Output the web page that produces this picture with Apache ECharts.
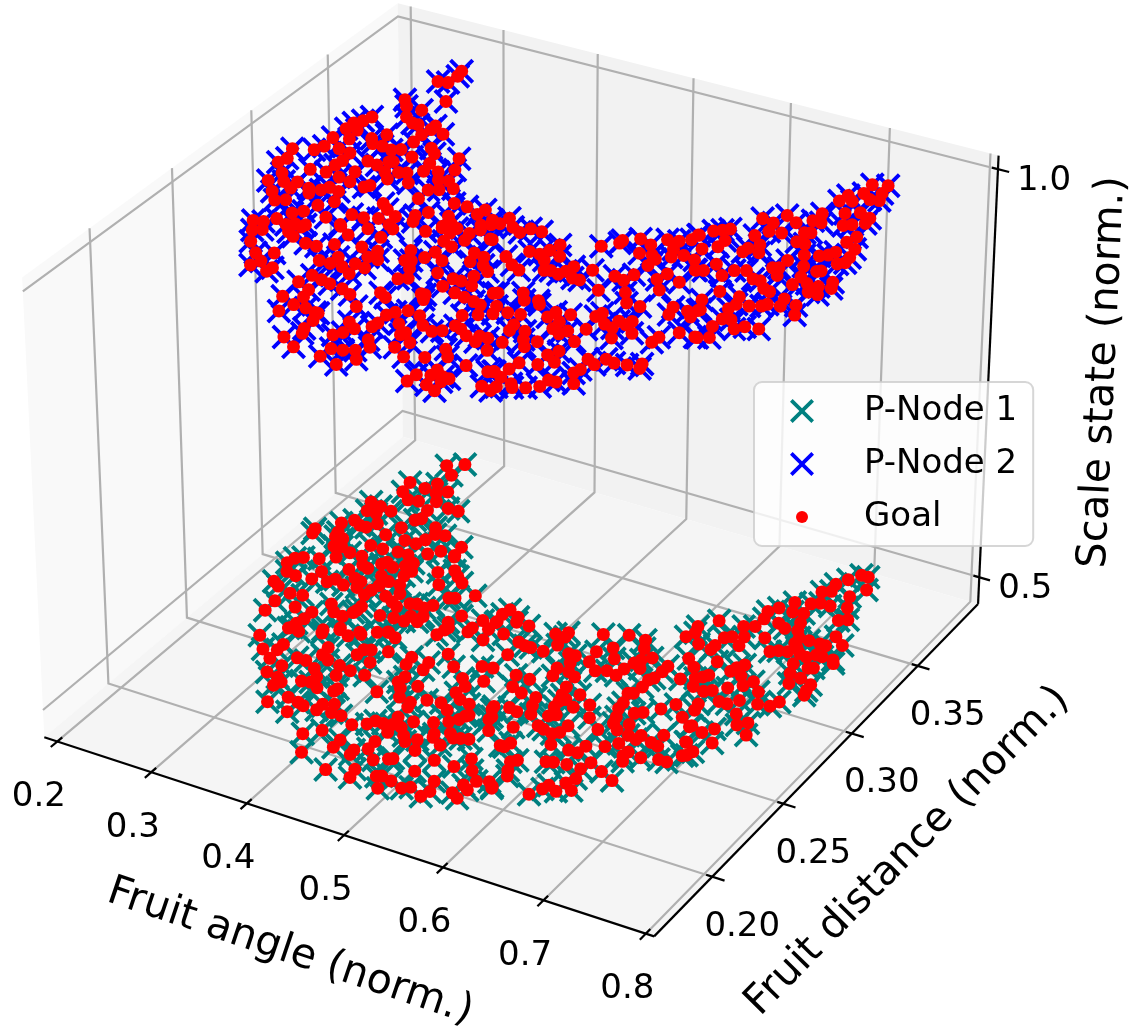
<!DOCTYPE html>
<html><head><meta charset="utf-8"><style>html,body{margin:0;padding:0;background:#fff}#c{width:1138px;height:1026px}</style>
<script src="https://cdn.jsdelivr.net/npm/echarts@6/dist/echarts.min.js"></script></head><body><div id="c"></div><script>
const angleTicks=[0.2,0.3,0.4,0.5,0.6,0.7,0.8];
const distanceTicks=[0.20,0.25,0.30,0.35];
const scaleTicks=[0.5,1.0];
const angleLimits=[0.186,0.808];
const distanceLimits=[0.1605,0.3975];
const scaleLimits=[0.466,1.016];
const lowerScale=0.5;
const upperScale=1.0;
// [fruit angle, fruit distance] of the goals on the upper sheet
const goalUpper=[[.296,.371],[.298,.367],[.297,.361],[.288,.360],[.315,.348],[.281,.342],[.289,.338],[.305,.338],[.300,.331],[.311,.328],[.317,.328],[.332,.330],[.346,.326],[.332,.327],
[.330,.322],[.331,.316],[.351,.315],[.359,.312],[.345,.306],[.365,.305],[.303,.316],[.273,.325],[.270,.321],[.265,.318],[.265,.313],[.275,.314],[.278,.307],[.295,.311],
[.301,.308],[.311,.308],[.322,.307],[.329,.309],[.383,.313],[.391,.305],[.368,.299],[.380,.301],[.388,.296],[.397,.297],[.408,.293],[.398,.290],[.390,.288],[.391,.281],
[.368,.289],[.357,.295],[.350,.294],[.339,.292],[.348,.288],[.335,.300],[.332,.299],[.326,.295],[.315,.296],[.341,.281],[.338,.279],[.264,.305],[.280,.299],[.293,.298],
[.295,.292],[.294,.288],[.266,.298],[.262,.294],[.244,.291],[.250,.284],[.247,.280],[.279,.281],[.294,.282],[.309,.281],[.322,.280],[.316,.287],[.261,.274],[.271,.269],
[.283,.266],[.282,.271],[.258,.267],[.272,.261],[.283,.256],[.291,.258],[.297,.269],[.302,.266],[.308,.270],[.312,.273],[.323,.272],[.330,.265],[.321,.260],[.339,.254],
[.369,.272],[.378,.269],[.356,.260],[.368,.260],[.380,.262],[.391,.266],[.405,.270],[.409,.266],[.412,.274],[.431,.275],[.423,.284],[.436,.284],[.453,.285],[.451,.281],
[.464,.275],[.440,.271],[.287,.240],[.296,.241],[.303,.245],[.309,.251],[.316,.254],[.322,.245],[.316,.243],[.331,.246],[.357,.252],[.394,.260],[.436,.268],[.449,.269],
[.471,.277],[.296,.234],[.303,.236],[.325,.239],[.333,.237],[.330,.244],[.306,.227],[.321,.221],[.335,.224],[.349,.235],[.360,.235],[.372,.239],[.373,.247],[.359,.251],
[.382,.254],[.400,.251],[.401,.258],[.428,.262],[.437,.267],[.448,.265],[.451,.259],[.462,.257],[.466,.263],[.463,.268],[.468,.272],[.484,.268],[.395,.242],[.409,.237],
[.411,.242],[.419,.237],[.376,.227],[.387,.227],[.387,.232],[.399,.227],[.411,.224],[.406,.231],[.417,.230],[.329,.213],[.333,.217],[.347,.212],[.348,.215],[.440,.241],
[.435,.248],[.445,.242],[.451,.237],[.452,.246],[.455,.251],[.468,.247],[.476,.239],[.452,.229],[.459,.231],[.485,.257],[.490,.251],[.496,.256],[.503,.251],[.512,.248],
[.506,.243],[.513,.237],[.493,.238],[.501,.238],[.492,.232],[.507,.230],[.381,.211],[.385,.217],[.396,.216],[.406,.215],[.396,.208],[.399,.203],[.383,.200],[.399,.197],
[.394,.191],[.420,.214],[.431,.212],[.452,.218],[.460,.216],[.447,.206],[.483,.224],[.487,.224],[.490,.221],[.518,.229],[.529,.228],[.537,.227],[.536,.236],[.544,.221],
[.533,.218],[.411,.197],[.422,.196],[.425,.196],[.428,.191],[.429,.185],[.432,.182],[.477,.206],[.481,.209],[.489,.212],[.502,.211],[.513,.206],[.525,.204],[.532,.206],
[.494,.203],[.505,.197],[.507,.199],[.519,.194],[.537,.211],[.544,.210],[.554,.207],[.566,.205],[.564,.209],[.572,.209],[.456,.196],[.466,.193],[.461,.189],[.478,.200],
[.477,.197],[.456,.186],[.422,.177],[.438,.173],[.467,.178],[.477,.179],[.486,.181],[.486,.189],[.494,.185],[.495,.176],[.512,.189],[.527,.185],[.543,.188],[.551,.196],
[.559,.192],[.582,.202],[.466,.172],[.485,.170],[.580,.190],[.552,.177],[.551,.172],[.563,.179],[.563,.183],[.579,.180],[.573,.180],[.568,.173],[.579,.171],[.576,.177],
[.601,.190],[.606,.191],[.609,.181],[.619,.180],[.479,.284],[.468,.280],[.477,.279],[.490,.279],[.500,.277],[.505,.281],[.516,.281],[.486,.268],[.525,.267],[.535,.267],
[.539,.271],[.542,.276],[.552,.269],[.544,.264],[.512,.260],[.524,.256],[.534,.254],[.553,.258],[.558,.259],[.567,.258],[.570,.261],[.572,.265],[.589,.266],[.581,.258],
[.588,.258],[.574,.282],[.585,.287],[.585,.289],[.597,.293],[.609,.284],[.610,.291],[.620,.285],[.626,.283],[.626,.278],[.618,.297],[.628,.298],[.631,.292],[.636,.287],
[.644,.290],[.636,.301],[.637,.305],[.656,.289],[.665,.283],[.611,.266],[.621,.265],[.624,.270],[.633,.258],[.643,.252],[.611,.255],[.645,.271],[.648,.276],[.656,.265],
[.664,.273],[.539,.237],[.558,.241],[.565,.237],[.576,.239],[.580,.237],[.554,.224],[.550,.229],[.564,.227],[.575,.228],[.579,.221],[.581,.217],[.597,.231],[.599,.235],
[.612,.236],[.656,.252],[.681,.257],[.684,.252],[.695,.257],[.702,.254],[.702,.259],[.632,.239],[.634,.242],[.645,.236],[.654,.235],[.653,.240],[.663,.242],[.661,.239],
[.610,.230],[.611,.225],[.620,.223],[.624,.226],[.636,.230],[.673,.235],[.662,.229],[.707,.243],[.722,.243],[.593,.219],[.599,.214],[.606,.210],[.611,.215],[.586,.209],
[.638,.221],[.696,.237],[.695,.233],[.635,.213],[.630,.209],[.641,.206],[.616,.200],[.631,.202],[.614,.195],[.663,.213],[.672,.211],[.676,.216],[.685,.215],[.696,.216],
[.706,.219],[.708,.216],[.666,.206],[.664,.203],[.673,.197],[.605,.191],[.615,.189],[.620,.183],[.628,.187],[.632,.185],[.642,.187],[.651,.190],[.652,.195],[.659,.195],
[.725,.366],[.738,.368],[.726,.359],[.716,.355],[.714,.350],[.724,.352],[.736,.356],[.744,.357],[.740,.362],[.671,.326],[.687,.332],[.700,.329],[.712,.339],[.711,.333],
[.719,.333],[.729,.343],[.740,.346],[.738,.335],[.744,.337],[.753,.340],[.752,.344],[.758,.330],[.683,.325],[.687,.319],[.698,.320],[.680,.314],[.715,.324],[.720,.325],
[.717,.317],[.725,.317],[.755,.325],[.767,.322],[.755,.317],[.752,.314],[.746,.312],[.734,.310],[.645,.310],[.651,.312],[.656,.314],[.638,.305],[.662,.306],[.662,.301],
[.652,.297],[.692,.309],[.698,.304],[.686,.305],[.685,.302],[.770,.316],[.771,.312],[.766,.310],[.726,.304],[.721,.297],[.726,.298],[.731,.293],[.743,.303],[.750,.296],
[.760,.303],[.757,.302],[.676,.290],[.666,.283],[.672,.284],[.695,.289],[.704,.291],[.690,.284],[.716,.287],[.723,.287],[.732,.283],[.739,.282],[.750,.290],[.760,.293],
[.778,.298],[.782,.294],[.771,.293],[.768,.288],[.777,.288],[.702,.274],[.696,.266],[.703,.260],[.721,.274],[.725,.269],[.723,.265],[.736,.270],[.745,.272],[.748,.274],
[.756,.280],[.759,.275],[.770,.278],[.777,.272],[.727,.258],[.734,.259],[.744,.254],[.726,.252],[.750,.257],[.762,.258],[.724,.243],[.733,.245]];
// [fruit angle, fruit distance] of the goals on the lower sheet
const goalLower=[[.291,.375],[.277,.371],[.290,.366],[.263,.354],[.281,.353],[.287,.358],[.295,.352],[.303,.355],[.266,.347],[.278,.343],[.288,.344],[.303,.347],[.319,.345],[.330,.345],
[.304,.340],[.307,.334],[.303,.332],[.250,.335],[.262,.334],[.255,.329],[.265,.329],[.275,.333],[.254,.321],[.263,.319],[.270,.319],[.276,.323],[.299,.325],[.230,.309],
[.232,.306],[.246,.317],[.252,.311],[.254,.308],[.262,.308],[.262,.302],[.269,.303],[.281,.301],[.274,.296],[.293,.318],[.291,.309],[.304,.309],[.327,.331],[.342,.328],
[.333,.327],[.314,.318],[.326,.318],[.330,.322],[.319,.310],[.330,.310],[.345,.314],[.353,.318],[.366,.324],[.368,.318],[.369,.317],[.248,.290],[.242,.288],[.262,.292],
[.240,.284],[.248,.279],[.259,.278],[.276,.285],[.275,.279],[.290,.280],[.294,.283],[.306,.281],[.294,.301],[.303,.296],[.310,.295],[.296,.291],[.317,.300],[.320,.302],
[.329,.300],[.342,.306],[.338,.303],[.346,.297],[.348,.301],[.370,.305],[.382,.309],[.390,.306],[.399,.303],[.382,.298],[.328,.293],[.339,.291],[.335,.287],[.351,.291],
[.309,.287],[.317,.286],[.319,.282],[.359,.286],[.332,.279],[.333,.283],[.350,.282],[.360,.280],[.368,.278],[.247,.271],[.255,.269],[.266,.260],[.271,.267],[.283,.268],
[.288,.260],[.267,.253],[.314,.268],[.323,.264],[.334,.263],[.340,.269],[.339,.267],[.340,.272],[.376,.282],[.382,.283],[.396,.285],[.391,.282],[.398,.277],[.421,.298],
[.407,.293],[.402,.292],[.363,.270],[.376,.271],[.387,.271],[.388,.275],[.398,.273],[.428,.284],[.423,.278],[.449,.285],[.306,.260],[.306,.255],[.304,.251],[.302,.247],
[.461,.286],[.447,.279],[.428,.275],[.343,.256],[.331,.252],[.362,.257],[.384,.262],[.286,.238],[.304,.248],[.313,.247],[.333,.250],[.344,.255],[.356,.253],[.365,.256],
[.376,.260],[.385,.262],[.395,.260],[.402,.251],[.425,.269],[.427,.273],[.447,.276],[.466,.274],[.461,.281],[.301,.231],[.315,.227],[.313,.237],[.313,.233],[.351,.243],
[.353,.238],[.362,.236],[.380,.244],[.381,.248],[.387,.249],[.397,.242],[.336,.232],[.345,.232],[.425,.252],[.443,.252],[.445,.247],[.427,.247],[.451,.260],[.466,.254],
[.488,.259],[.498,.260],[.325,.219],[.331,.225],[.338,.218],[.342,.213],[.345,.216],[.359,.229],[.368,.225],[.360,.220],[.368,.221],[.378,.219],[.376,.235],[.382,.229],
[.389,.234],[.404,.234],[.437,.240],[.436,.236],[.443,.233],[.455,.237],[.483,.249],[.492,.245],[.502,.251],[.490,.240],[.499,.237],[.510,.236],[.428,.227],[.395,.222],
[.394,.220],[.450,.228],[.352,.203],[.364,.209],[.376,.208],[.383,.207],[.406,.213],[.397,.211],[.397,.207],[.376,.201],[.411,.208],[.421,.208],[.463,.227],[.465,.224],
[.474,.231],[.487,.232],[.498,.229],[.466,.217],[.482,.217],[.517,.229],[.515,.226],[.519,.230],[.509,.223],[.498,.220],[.437,.205],[.448,.208],[.452,.211],[.460,.211],
[.468,.212],[.471,.207],[.477,.212],[.486,.208],[.492,.205],[.532,.237],[.538,.231],[.547,.225],[.407,.192],[.419,.197],[.508,.214],[.510,.212],[.520,.217],[.526,.215],
[.532,.216],[.539,.217],[.422,.182],[.441,.195],[.442,.190],[.460,.192],[.461,.189],[.469,.200],[.470,.195],[.483,.190],[.500,.208],[.507,.202],[.522,.209],[.497,.194],
[.494,.193],[.530,.200],[.550,.200],[.557,.207],[.567,.201],[.455,.177],[.477,.182],[.480,.177],[.499,.182],[.503,.183],[.514,.182],[.524,.191],[.547,.189],[.579,.196],
[.589,.198],[.572,.192],[.579,.190],[.510,.176],[.528,.180],[.534,.182],[.552,.183],[.549,.179],[.570,.186],[.578,.184],[.596,.195],[.461,.296],[.459,.292],[.461,.287],
[.474,.293],[.477,.290],[.490,.290],[.477,.281],[.518,.290],[.527,.293],[.528,.290],[.529,.284],[.556,.298],[.577,.302],[.594,.302],[.600,.297],[.496,.279],[.504,.278],
[.510,.278],[.523,.278],[.498,.270],[.565,.287],[.575,.292],[.585,.286],[.614,.293],[.545,.281],[.552,.281],[.554,.276],[.568,.280],[.580,.276],[.589,.278],[.600,.277],
[.548,.271],[.551,.266],[.560,.271],[.569,.269],[.601,.282],[.604,.287],[.607,.290],[.613,.285],[.633,.291],[.633,.287],[.632,.282],[.629,.280],[.630,.275],[.653,.286],
[.522,.260],[.536,.260],[.529,.253],[.541,.251],[.571,.262],[.574,.257],[.577,.253],[.578,.249],[.581,.255],[.593,.252],[.588,.260],[.604,.256],[.624,.269],[.628,.270],
[.628,.263],[.629,.259],[.556,.251],[.560,.246],[.544,.241],[.553,.240],[.566,.241],[.581,.243],[.586,.245],[.614,.249],[.634,.254],[.637,.250],[.645,.247],[.645,.259],
[.651,.261],[.662,.266],[.670,.271],[.685,.265],[.650,.252],[.698,.261],[.563,.231],[.581,.236],[.588,.235],[.598,.234],[.603,.236],[.604,.241],[.630,.244],[.531,.239],
[.538,.233],[.658,.246],[.667,.245],[.668,.248],[.681,.246],[.689,.245],[.685,.252],[.606,.228],[.568,.219],[.574,.222],[.572,.219],[.634,.233],[.649,.236],[.657,.240],
[.707,.252],[.624,.228],[.633,.228],[.634,.220],[.671,.237],[.670,.234],[.674,.231],[.685,.236],[.715,.244],[.700,.238],[.708,.238],[.616,.218],[.622,.219],[.593,.214],
[.589,.212],[.594,.207],[.598,.204],[.651,.225],[.648,.220],[.652,.214],[.648,.210],[.666,.222],[.681,.219],[.658,.207],[.637,.206],[.635,.203],[.647,.204],[.629,.198],
[.595,.196],[.712,.378],[.719,.378],[.705,.373],[.728,.370],[.699,.368],[.694,.361],[.701,.363],[.720,.363],[.695,.352],[.702,.354],[.712,.354],[.727,.356],[.730,.347],
[.737,.349],[.681,.350],[.687,.344],[.697,.345],[.673,.344],[.667,.340],[.670,.335],[.669,.329],[.660,.327],[.636,.326],[.685,.335],[.702,.339],[.694,.333],[.706,.334],
[.686,.324],[.624,.319],[.627,.315],[.713,.330],[.723,.330],[.714,.326],[.734,.330],[.740,.330],[.741,.337],[.753,.333],[.654,.317],[.659,.319],[.669,.321],[.672,.315],
[.639,.309],[.653,.311],[.653,.308],[.623,.311],[.701,.317],[.707,.319],[.715,.320],[.719,.324],[.726,.321],[.734,.320],[.740,.323],[.746,.323],[.729,.314],[.757,.323],
[.760,.321],[.744,.314],[.748,.315],[.734,.308],[.746,.307],[.741,.302],[.759,.305],[.762,.298],[.760,.301],[.668,.302],[.643,.299],[.654,.295],[.692,.305],[.688,.302],
[.686,.299],[.698,.298],[.707,.293],[.712,.297],[.664,.289],[.672,.293],[.669,.291],[.669,.284],[.681,.283],[.687,.285],[.697,.289],[.724,.292],[.716,.284],[.709,.280],
[.701,.280],[.733,.285],[.744,.286],[.748,.290],[.687,.275],[.689,.271],[.724,.276],[.733,.270],[.740,.273],[.748,.266],[.719,.264],[.712,.260],[.699,.262],[.728,.256],
[.720,.248],[.708,.252],[.718,.245]];
const pNode1=goalLower; // the nodes sit on their goals
const pNode2=goalUpper;

// 3-D view (elevation 30, azimuth -60, eye distance 10) projected onto the two hidden value axes
const W=1138,H=1026,scale=5868,cx=519.8,cy=447.4;
const boxHalf=[0.59525,0.59525,0.44645];
const frac=(v,l)=>(v-l[0])/(l[1]-l[0]);
function project(a,d,z){
  const qx=(frac(a,angleLimits)*2-1)*boxHalf[0],qy=(frac(d,distanceLimits)*2-1)*boxHalf[1],qz=(frac(z,scaleLimits)*2-1)*boxHalf[2];
  const X=0.8660254*qx+0.5*qy,Y=-0.25*qx+0.4330127*qy+0.8660254*qz,Z=0.4330127*qx-0.75*qy+0.5*qz;
  return [X/(10-Z),Y/(10-Z)];
}
const [a0,a1]=angleLimits,[d0,d1]=distanceLimits,[z0,z1]=scaleLimits;
const panes=[
 {fill:'#f9f9f9',pts:[[a0,d0,z0],[a0,d1,z0],[a0,d1,z1],[a0,d0,z1]]},
 {fill:'#f2f2f2',pts:[[a0,d1,z0],[a1,d1,z0],[a1,d1,z1],[a0,d1,z1]]},
 {fill:'#f5f5f5',pts:[[a0,d0,z0],[a1,d0,z0],[a1,d1,z0],[a0,d1,z0]]}];
const grid=[];
angleTicks.forEach(a=>grid.push([[a,d0,z0],[a,d1,z0],[a,d1,z1]]));
distanceTicks.forEach(d=>grid.push([[a1,d,z0],[a0,d,z0],[a0,d,z1]]));
scaleTicks.forEach(z=>grid.push([[a0,d0,z],[a0,d1,z],[a1,d1,z]]));
const axes=[[[a0,d0,z0],[a1,d0,z0]],[[a1,d0,z0],[a1,d1,z0]],[[a1,d1,z0],[a1,d1,z1]]];
angleTicks.forEach(a=>axes.push([[a,d0-0.004,z0],[a,d0+0.003,z0]]));
distanceTicks.forEach(d=>axes.push([[a1+0.012,d,z0],[a1-0.006,d,z0]]));
scaleTicks.forEach(z=>axes.push([[a1+0.011,d1,z],[a1-0.006,d1,z]]));
const texts=[];
angleTicks.forEach(a=>texts.push({p:[a,d0,z0],dx:-18.5,dy:56,t:a.toFixed(1),size:34,rot:0}));
distanceTicks.forEach(d=>texts.push({p:[a1,d,z0],dx:30,dy:50,t:d.toFixed(2),size:34,rot:0}));
scaleTicks.forEach(z=>texts.push({p:[a1,d1,z],dx:46,dy:12,t:z.toFixed(1),size:34,rot:0}));
texts.push({p:[0.5,d0,z0],dx:-54,dy:117,t:'Fruit angle (norm.)',size:41,rot:-18.7});
texts.push({p:[a1,0.28,z0],dx:83,dy:90,t:'Fruit distance (norm.)',size:41,rot:45.5});
texts.push({p:[a1,d1,0.75],dx:115,dy:-5,t:'Scale state (norm.)',size:41,rot:87.3});

const XMARK='path://M0 11L11 0L50 39L89 0L100 11L61 50L100 89L89 100L50 61L11 100L0 89L39 50Z';
const DOT='path://M0 0L0 0M100 100L100 100M75 50A25 25 0 1 1 25 50A25 25 0 1 1 75 50Z';
const index=l=>l.map((_,i)=>[i]);
const poly=(api,pts)=>pts.map(p=>api.coord(project(p[0],p[1],p[2])));
const font='"DejaVu Sans"';
function custom(z,list,render){return {type:'custom',silent:true,z,clip:false,animation:false,data:index(list),
  encode:{x:0},tooltip:{show:false},legendHoverLink:false,renderItem:(params,api)=>render(list[api.value(0)],api)};}
const flat=(l,z)=>l.map(p=>project(p[0],p[1],z));
const option={animation:false,backgroundColor:'#fff',
 grid:{left:0,right:0,top:0,bottom:0},
 xAxis:{type:'value',show:false,min:-cx/scale,max:(W-cx)/scale},
 yAxis:{type:'value',show:false,min:(cy-H)/scale,max:cy/scale},
 legend:{z:10,left:754,top:382,orient:'vertical',selectedMode:false,itemWidth:24,itemHeight:24,itemGap:19,
   padding:[12,16,12,36],backgroundColor:'rgba(255,255,255,0.8)',borderColor:'rgba(204,204,204,0.8)',borderWidth:2,borderRadius:8,
   formatter:n=>'{t|'+n+'}',
   textStyle:{rich:{t:{fontFamily:font,fontSize:34,color:'#000',padding:[0,0,0,45]}}},
   data:[{name:'P-Node 1',icon:XMARK},{name:'P-Node 2',icon:XMARK},{name:'Goal',icon:DOT}]},
 series:[
  custom(1,panes,(it,api)=>({type:'polygon',shape:{points:poly(api,it.pts)},style:{fill:it.fill}})),
  custom(2,grid,(it,api)=>({type:'polyline',shape:{points:poly(api,it)},style:{fill:null,stroke:'#b0b0b0',lineWidth:2.2}})),
  custom(3,axes,(it,api)=>({type:'polyline',shape:{points:poly(api,it)},style:{fill:null,stroke:'#000',lineWidth:2.2}})),
  {name:'P-Node 1',type:'scatter',z:4,symbol:XMARK,symbolSize:25,itemStyle:{color:'#008080',opacity:1},silent:true,data:flat(pNode1,lowerScale)},
  {name:'P-Node 2',type:'scatter',z:4,symbol:XMARK,symbolSize:25,itemStyle:{color:'#0000ff',opacity:1},silent:true,data:flat(pNode2,upperScale)},
  {name:'Goal',type:'scatter',z:5,symbol:'circle',symbolSize:13,itemStyle:{color:'#ff0000',opacity:1},silent:true,data:flat(goalLower,lowerScale).concat(flat(goalUpper,upperScale))},
  custom(6,texts,(it,api)=>{const c=api.coord(project(it.p[0],it.p[1],it.p[2]));
    return {type:'text',x:c[0]+it.dx,y:c[1]+it.dy,rotation:it.rot*Math.PI/180,
      style:{text:it.t,align:'center',verticalAlign:'middle',fontFamily:font,fontSize:it.size,fill:'#000'}};})
 ]};
echarts.init(document.getElementById('c'),null,{renderer:'canvas'}).setOption(option);
</script></body></html>
